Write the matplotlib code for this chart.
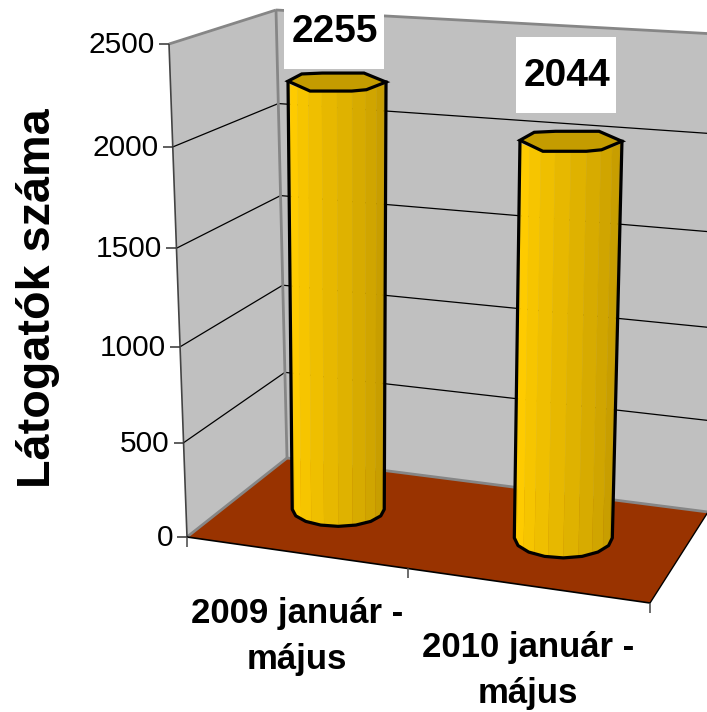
import matplotlib
matplotlib.use("Agg")
import matplotlib.pyplot as plt
from matplotlib.patches import Polygon, Rectangle
import numpy as np

# data
categories = ["2009 január -\nmájus", "2010 január -\nmájus"]
values = [2255, 2044]
value_ticks = [0, 500, 1000, 1500, 2000, 2500]
y_title = "Látogatók száma"

plt.rcParams['font.family'] = ['Liberation Sans', 'DejaVu Sans']

W, H = 707, 712
fig = plt.figure(figsize=(W / 100, H / 100), dpi=100)
ax = fig.add_axes([0, 0, 1, 1])
ax.set_xlim(0, W)
ax.set_ylim(H, 0)
ax.axis('off')

# box corners in pixels: [u][d][v], u along categories, d depth, v value
corners = np.array([
    [[[187, 537], [169, 44]], [[287, 458], [276, 10]]],
    [[[650, 603], [680, 82]], [[708, 512], [716, 34]]],
], dtype=float)
vmax = value_ticks[-1]


def proj(u, d, v):
    t = v / vmax
    # slight perspective: units get bigger higher up
    t = t - 0.015 * np.sin(np.pi * t)
    c = corners
    b = (1 - u) * ((1 - d) * c[0, 0, 0] + d * c[0, 1, 0]) + u * ((1 - d) * c[1, 0, 0] + d * c[1, 1, 0])
    a = (1 - u) * ((1 - d) * c[0, 0, 1] + d * c[0, 1, 1]) + u * ((1 - d) * c[1, 0, 1] + d * c[1, 1, 1])
    return b + (a - b) * t


# walls
ax.add_patch(Polygon([proj(0, 0, 0), proj(0, 0, vmax), proj(0, 1, vmax), proj(0, 1, 0)], fc='#c0c0c0', ec='none'))
ax.add_patch(Polygon([proj(0, 1, 0), proj(0, 1, vmax), proj(1, 1, vmax), proj(1, 1, 0)], fc='#c0c0c0', ec='none'))
ax.add_patch(Polygon([proj(0, 0, 0), proj(0, 1, 0), proj(1, 1, 0), proj(1, 0, 0)], fc='#993300', ec='none'))


def seg(p, q, **kw):
    ax.plot([p[0], q[0]], [p[1], q[1]], solid_capstyle='butt', **kw)


# gridlines
for v in value_ticks[1:-1]:
    seg(proj(0, 0, v), proj(0, 1, v), color='black', lw=0.9)
    seg(proj(0, 1, v), proj(1, 1, v), color='black', lw=0.9)

# wall edges
grey = '#868686'
seg(proj(0, 0, vmax), proj(0, 1, vmax), color=grey, lw=2)
seg(proj(0, 1, vmax), proj(1, 1, vmax), color=grey, lw=2)
seg(proj(0, 1, vmax), proj(0, 1, 0), color=grey, lw=2)
seg(proj(0, 0, 0), proj(0, 1, 0), color=grey, lw=2)
seg(proj(0, 1, 0), proj(1, 1, 0), color=grey, lw=2)

# axes
seg(proj(0, 0, 0), proj(0, 0, vmax), color='#444444', lw=1.2)
seg(proj(0, 0, 0), proj(1, 0, 0), color='black', lw=1.2)
seg(proj(1, 0, 0), proj(1, 1, 0), color='black', lw=1.0)

# value ticks and labels
for v in value_ticks:
    p = proj(0, 0, v)
    seg(p, (p[0] - 10, p[1]), color='#333333', lw=1.1)
    ax.text(p[0] - 14, p[1] + 1, str(v), ha='right', va='center', fontsize=21.5, color='black')

# category ticks
for u in [0, 0.477, 1]:
    p = proj(u, 0, 0)
    seg(p, (p[0], p[1] + 10), color='#444444', lw=1.1)

ax.text(38, 298, y_title, rotation=90, ha='center', va='center', fontsize=33.7, fontweight='bold')

# bars
bar_u = [0.225, 0.732]
bar_d = [0.52, 0.54]
top_dx = [5, 0]
base_r = [(46, 17), (49, 20)]
top_r = [(49, 9), (51, 10)]
label_xy = [(334, 32), (566, 76)]
cat_xy = [(297, 637), (528, 670)]
angles = np.radians(np.arange(180, -1, -180 / 8))
# outline of the top face, in units of the radii
top_shape = np.array([(-1, -.1), (-.72, -.9), (-.3, -1), (.55, -1), (1, 0), (.6, .85), (.3, 1), (-.55, 1)])
c_left = np.array([255, 204, 0]) / 255
c_right = np.array([192, 152, 0]) / 255

for i, v in enumerate(values):
    b = proj(bar_u[i], bar_d[i], 0)
    t = proj(bar_u[i], bar_d[i], v) + np.array([top_dx[i], 0])
    rb, rt = base_r[i], top_r[i]
    # side strips
    n = 10
    xs = np.cos(np.linspace(np.pi, 0, n + 1))
    for k in range(n):
        f = k / (n - 1)
        col = c_left + (c_right - c_left) * max(0, f - 0.1) / 0.9
        pts = []
        for c in (xs[k], xs[k + 1]):
            pts.append((t[0] + rt[0] * c, t[1] + rt[1] * np.sqrt(max(0, 1 - c * c))))
        for c in (xs[k + 1], xs[k]):
            pts.append((b[0] + rb[0] * c, b[1] + rb[1] * np.sqrt(max(0, 1 - c * c))))
        ax.add_patch(Polygon(pts, fc=col, ec=col, lw=0.3, zorder=3))
    # outline
    bot = np.c_[b[0] + rb[0] * np.cos(angles), b[1] + rb[1] * np.sin(angles)]
    ax.plot(np.r_[t[0] - rt[0], bot[:, 0], t[0] + rt[0]], np.r_[t[1], bot[:, 1], t[1]],
            color='black', lw=2.3, solid_joinstyle='round', zorder=4)
    # top
    top = t + top_shape * np.array(rt)
    ax.add_patch(Polygon(top, fc='#c49c00', ec='black', lw=2.3, zorder=4))

    # value label on white box
    lx, ly = label_xy[i]
    ax.add_patch(Rectangle((lx - 50, ly - 39), 100, 76, fc='white', ec='none', zorder=5))
    ax.text(lx + 1, ly, str(v), ha='center', va='center', fontsize=28, fontweight='bold', zorder=6)

    cx, cy = cat_xy[i]
    ax.text(cx, cy, categories[i], ha='center', va='center', fontsize=25, fontweight='bold', linespacing=1.5)

fig.savefig("out.png", dpi=100)
